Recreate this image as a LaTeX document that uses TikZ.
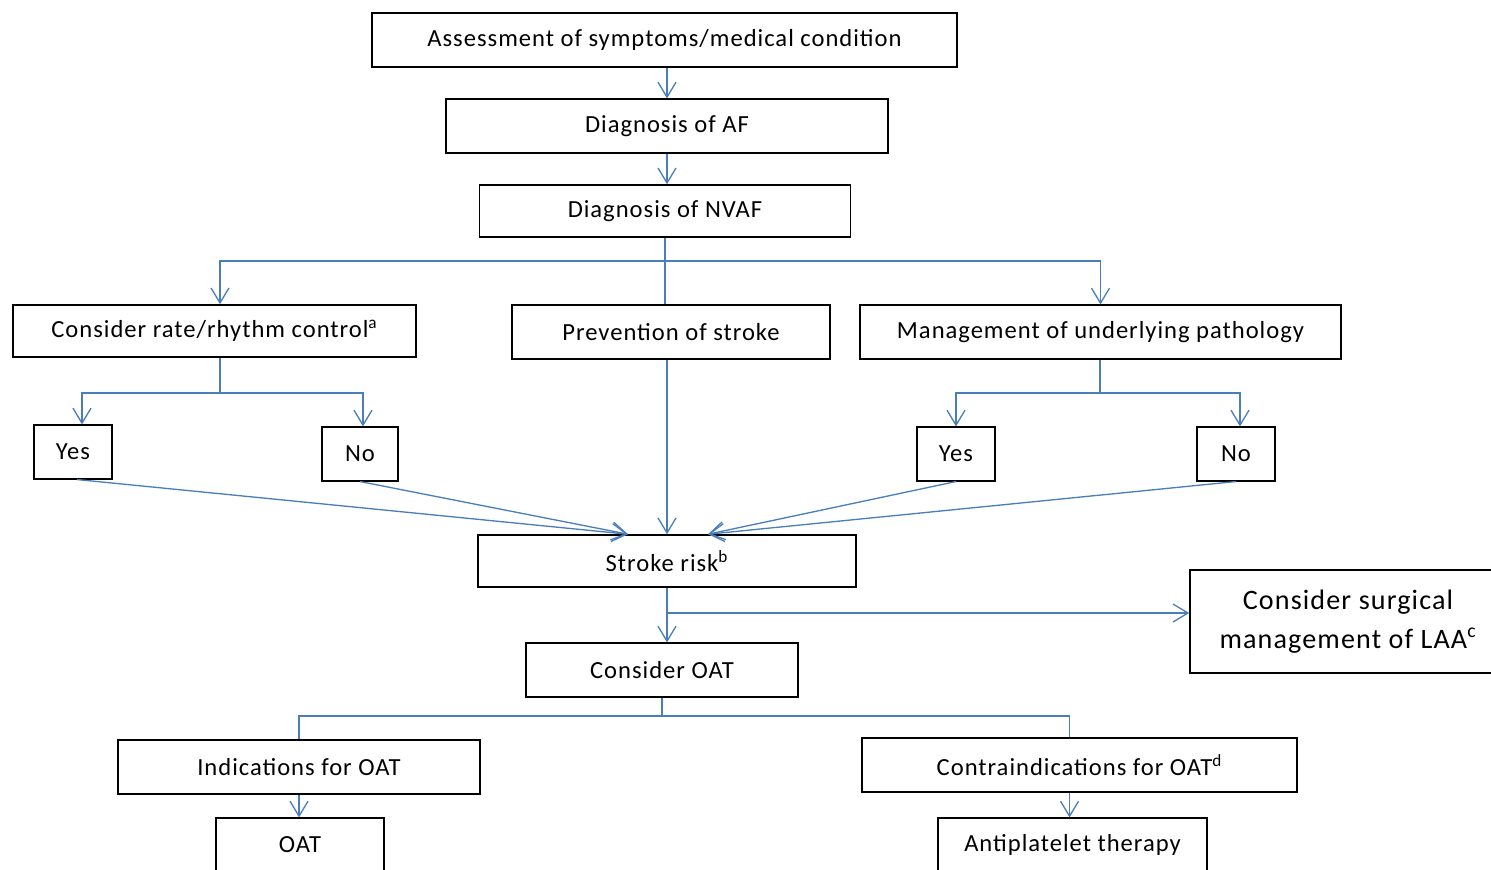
\documentclass[tikz,border=0pt]{standalone}
\usepackage{fontspec}
\setmainfont{Carlito}[LetterSpace=4]
\usepackage{tikz}
\usetikzlibrary{positioning,arrows.meta}
\definecolor{linkblue}{HTML}{4A7EBB}

\begin{document}
\begin{tikzpicture}[x=0.02cm,y=-0.02cm,
  box/.style={draw=black,line width=0.9pt,minimum height=1.07cm,inner sep=2pt,font=\fontsize{14}{17}\selectfont},
  link/.style={draw=linkblue,line width=0.75pt},
  arr/.style={link,-{Straight Barb[length=0.3cm,width=0.36cm]}}]
\useasboundingbox (0,0) rectangle (1491,869);
\clip (0,0) rectangle (1491,869);
% ---- top: assessment and diagnosis ----
\node[box,minimum width=11.7cm] (assess) at (664.5,40) {Assessment of symptoms/medical condition};
\node[box,minimum width=8.84cm] (diagaf) at (667,126) {Diagnosis of AF};
\node[box,minimum width=7.42cm,minimum height=1.04cm] (nvaf) at (665,211) {Diagnosis of NVAF};
\draw[arr] (diagaf.north |- assess.south) -- (diagaf.north);
\draw[arr] (diagaf.south) -- (diagaf.south |- nvaf.north);
% ---- three branches ----
\node[box,minimum width=8.06cm,minimum height=1.04cm] (rate) at (214.5,331) {Consider rate/rhythm control\textsuperscript{a}};
\node[box,minimum width=6.36cm] (prev) at (671,332) {Prevention of stroke};
\node[box,minimum width=9.62cm] (mgmt) at (1100.5,332) {Management of underlying pathology};
\coordinate (split1) at (nvaf.south |- 0,261);
\draw[link] (nvaf.south) -- (nvaf.south |- prev.north);
\draw[arr] (split1) -| ([xshift=0.11cm]rate.north);
\draw[arr] (split1) -| (mgmt.north);
% ---- yes / no ----
\node[box,minimum width=1.56cm] (yesA) at (73,452) {Yes};
\node[box,minimum width=1.52cm] (noA) at (360,454) {No};
\node[box,minimum width=1.56cm] (yesB) at (956,454) {Yes};
\node[box,minimum width=1.56cm] (noB) at (1236,454) {No};
\coordinate (split2) at (220,393);
\draw[link] (split2 |- rate.south) -- (split2);
\draw[arr] (split2) -| ([xshift=0.18cm]yesA.north);
\draw[arr] (split2) -| ([xshift=0.06cm]noA.north);
\coordinate (split3) at (1100,393);
\draw[link] (split3 |- mgmt.south) -- (split3);
\draw[arr] (split3) -| (yesB.north);
\draw[arr] (split3) -| ([xshift=0.08cm]noB.north);
% ---- stroke risk ----
\node[box,minimum width=7.56cm,minimum height=1.04cm] (stroke) at (667,561) {Stroke risk\textsuperscript{b}};
\draw[arr] ([xshift=0.08cm]yesA.south) -- ([xshift=-0.78cm]stroke.north);
\draw[arr] (noA.south) -- ([xshift=-0.78cm]stroke.north);
\draw[arr] (prev.south -| stroke.north) -- (stroke.north);
\draw[arr] (yesB.south) -- ([xshift=0.82cm]stroke.north);
\draw[arr] (noB.south) -- ([xshift=0.82cm]stroke.north);
% ---- OAT and surgery ----
\node[box,minimum width=6.32cm,minimum height=2.06cm,align=center,font=\fontsize{16}{22}\selectfont] (surg) at (1348,621.5) {Consider surgical\\management of LAA\textsuperscript{c}};
\node[box,minimum width=5.44cm] (coat) at (662,670) {Consider OAT};
\draw[arr] (stroke.south) -- (stroke.south |- coat.north);
\coordinate (split4) at (stroke.south |- 0,613);
\draw[arr] (split4) -- (split4 -| surg.west);
\node[box,minimum width=7.24cm] (ind) at (299,767) {Indications for OAT};
\node[box,minimum width=8.7cm] (contra) at (1079.5,765) {Contraindications for OAT\textsuperscript{d}};
\node[box,minimum width=3.36cm] (oat) at (300,845) {OAT};
\node[box,minimum width=5.38cm] (anti) at (1072.5,845) {Antiplatelet therapy};
\coordinate (split5) at (coat.south |- 0,716);
\draw[link] (coat.south) -- (split5);
\draw[link] (split5) -| (ind.north);
\draw[link] (split5) -| ([xshift=-0.2cm]contra.north);
\draw[arr] (ind.south) -- (ind.south |- oat.north);
\draw[arr] ([xshift=-0.2cm]contra.south) -- ([xshift=-0.2cm]contra.south |- anti.north);
\end{tikzpicture}
\end{document}
